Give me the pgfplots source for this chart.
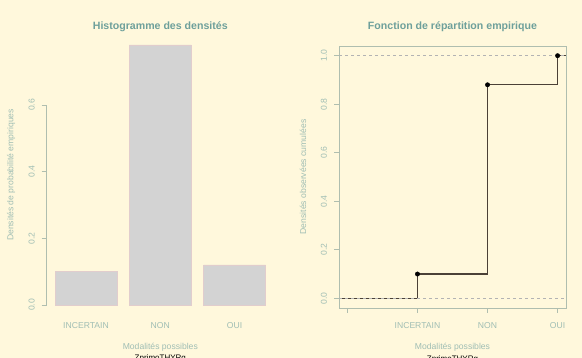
\documentclass[border=0pt]{standalone}
\usepackage{pgfplots}
\pgfplotsset{compat=1.18}
\usepackage{fontspec}
\setmainfont{Liberation Sans}
\definecolor{bg}{RGB}{255,248,220}
\definecolor{titlec}{RGB}{110,160,155}
\definecolor{labc}{RGB}{160,190,180}
\definecolor{axc}{RGB}{175,190,175}
\definecolor{barfill}{RGB}{211,211,211}
\definecolor{barline}{RGB}{225,205,205}
\definecolor{stepc}{RGB}{75,65,55}
\definecolor{refc}{RGB}{179,179,179}
\newcommand{\fs}{\fontsize{8.6}{9}\selectfont}
\pgfplotsset{
  rstyle/.style={
    scale only axis, anchor=south west, clip=false,
    tick align=outside, major tick length=5pt,
    tick style={draw=axc, line width=0.8pt},
    every tick label/.append style={font=\fs, text=labc},
    title style={font=\fontsize{10.6}{12}\selectfont\bfseries, text=titlec, anchor=center, at={(axis description cs:0.5,1)}},
    xlabel style={font=\fs, text=labc, anchor=center, at={(axis description cs:0.5,0)}},
    ylabel style={font=\fs, text=labc, anchor=center, at={(axis description cs:0,0.5)}},
    yticklabel style={rotate=90, anchor=center, yshift=10pt},
    xtick pos=bottom, ytick pos=left,
  }
}
\begin{document}
\begin{tikzpicture}[x=1pt,y=1pt]
\fill[bg] (0,0) rectangle (582,358);
% ---------------- left: bar chart
\begin{axis}[rstyle,
  at={(46.6pt,42.6pt)}, width=227.4pt, height=280.9pt,
  xmin=0.064, xmax=3.736, ymin=-0.0312, ymax=0.8112,
  axis line style={draw=none},
  xtick=\empty,
  extra x ticks={0.7,1.9,3.1},
  extra x tick labels={INCERTAIN,NON,OUI},
  extra x tick style={major tick length=0pt, tick style={draw=none}, xticklabel style={anchor=center, yshift=-10.4pt}},
  ytick={0,0.2,0.4,0.6}, yticklabels={0.0,0.2,0.4,0.6},
  title={Histogramme des densités}, title style={yshift=1.5pt},
  xlabel={Modalités possibles}, xlabel style={yshift=-31.4pt},
  ylabel={Densités de probabilité empiriques}, ylabel style={yshift=35.6pt},
]
\addplot[ybar, bar width=1, bar shift=0pt, fill=barfill, draw=barline] coordinates {(0.7,0.10) (1.9,0.78) (3.1,0.12)};
\draw[axc, line width=0.8pt] (axis cs:0.064,0) -- (axis cs:0.064,0.6);
\node[font=\fontsize{8}{9}\selectfont, text=black, anchor=center] at (axis description cs:0.5,0) [yshift=-43pt] {ZprimoTHYRg};
\end{axis}
% ---------------- right: ECDF
\begin{axis}[rstyle,
  at={(339pt,50pt)}, width=227pt, height=262pt,
  xmin=-0.12, xmax=3.12, ymin=-0.04, ymax=1.04,
  axis line style={draw=axc, line width=0.8pt},
  xtick={0,1,2,3}, xticklabels={,INCERTAIN,NON,OUI},
  xticklabel style={anchor=center, yshift=-12.8pt},
  ytick={0,0.2,0.4,0.6,0.8,1.0}, yticklabels={0.0,0.2,0.4,0.6,0.8,1.0},
  title={Fonction de répartition empirique}, title style={yshift=13pt},
  xlabel={Modalités possibles}, xlabel style={yshift=-38.8pt},
  ylabel={Densités observées cumulées}, ylabel style={yshift=36pt},
]
\addplot[stepc, line width=1.1pt] coordinates {(-0.12,0) (1,0) (1,0.10) (2,0.10) (2,0.88) (3,0.88) (3,1) (3.12,1)};
\addplot[refc, line width=0.7pt, dash pattern=on 3pt off 3pt] coordinates {(-0.12,0) (3.12,0)};
\addplot[refc, line width=0.7pt, dash pattern=on 3pt off 3pt] coordinates {(-0.12,1) (3.12,1)};
\addplot[only marks, mark=*, mark size=2.2pt, black] coordinates {(1,0.10) (2,0.88) (3,1)};
\node[font=\fontsize{8}{9}\selectfont, text=black, anchor=center] at (axis description cs:0.5,0) [yshift=-51pt] {ZprimoTHYRg};
\end{axis}
\pgfresetboundingbox
\path[use as bounding box] (0,0) rectangle (582,358);
\end{tikzpicture}
\end{document}
